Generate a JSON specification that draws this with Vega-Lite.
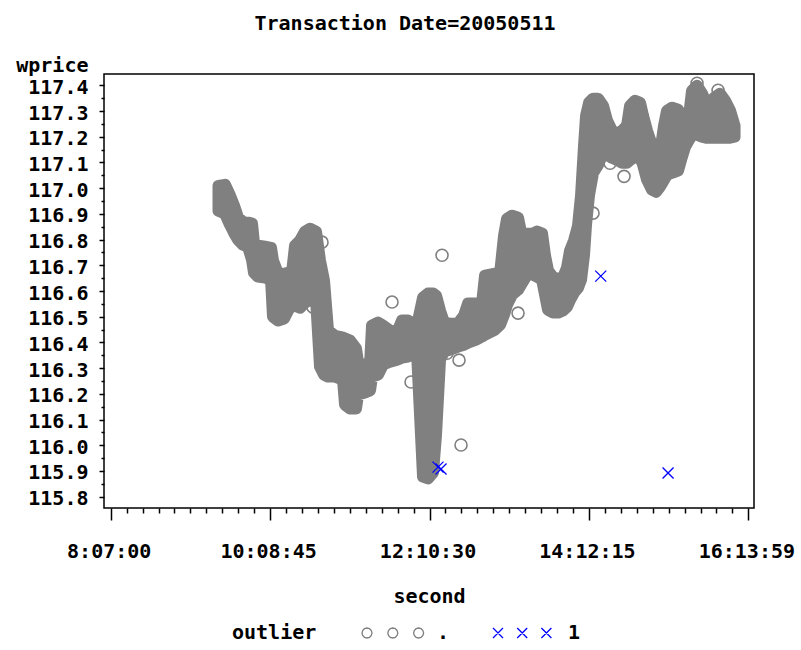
{
  "$schema": "https://vega.github.io/schema/vega-lite/v6.json",
  "width": 650,
  "height": 434,
  "autosize": {"type": "none"},
  "padding": {"left": 104, "top": 74, "right": 47, "bottom": 142},
  "background": "white",
  "title": {
    "text": "Transaction Date=20050511",
    "anchor": "middle",
    "frame": "group",
    "dx": -24,
    "offset": 5,
    "baseline": "alphabetic",
    "font": "DejaVu Sans Mono",
    "fontSize": 20,
    "fontWeight": "bold",
    "color": "black"
  },
  "config": {
    "view": {"stroke": "black", "strokeWidth": 1.5},
    "axis": {"domain": false, "grid": false}
  },
  "datasets": {
    "band": [
      {"second": 34160, "hi": 117.009, "lo": 116.912},
      {"second": 34458, "hi": 117.013, "lo": 116.901},
      {"second": 34688, "hi": 116.971, "lo": 116.858},
      {"second": 34871, "hi": 116.932, "lo": 116.827},
      {"second": 35054, "hi": 116.885, "lo": 116.800},
      {"second": 35283, "hi": 116.869, "lo": 116.780},
      {"second": 35513, "hi": 116.866, "lo": 116.772},
      {"second": 35696, "hi": 116.862, "lo": 116.722},
      {"second": 35788, "hi": 116.784, "lo": 116.671},
      {"second": 35971, "hi": 116.776, "lo": 116.656},
      {"second": 36292, "hi": 116.772, "lo": 116.652},
      {"second": 36567, "hi": 116.768, "lo": 116.644},
      {"second": 36658, "hi": 116.718, "lo": 116.500},
      {"second": 36887, "hi": 116.667, "lo": 116.485},
      {"second": 37162, "hi": 116.667, "lo": 116.493},
      {"second": 37346, "hi": 116.671, "lo": 116.524},
      {"second": 37529, "hi": 116.671, "lo": 116.547},
      {"second": 37667, "hi": 116.776, "lo": 116.543},
      {"second": 37896, "hi": 116.796, "lo": 116.535},
      {"second": 38125, "hi": 116.831, "lo": 116.555},
      {"second": 38354, "hi": 116.842, "lo": 116.566},
      {"second": 38629, "hi": 116.831, "lo": 116.570},
      {"second": 38812, "hi": 116.718, "lo": 116.306},
      {"second": 38996, "hi": 116.640, "lo": 116.275},
      {"second": 39179, "hi": 116.446, "lo": 116.267},
      {"second": 39500, "hi": 116.426, "lo": 116.267},
      {"second": 39866, "hi": 116.419, "lo": 116.255},
      {"second": 39958, "hi": 116.415, "lo": 116.158},
      {"second": 40187, "hi": 116.407, "lo": 116.143},
      {"second": 40462, "hi": 116.376, "lo": 116.143},
      {"second": 40554, "hi": 116.322, "lo": 116.197},
      {"second": 40875, "hi": 116.310, "lo": 116.205},
      {"second": 41104, "hi": 116.310, "lo": 116.213},
      {"second": 41195, "hi": 116.465, "lo": 116.267},
      {"second": 41470, "hi": 116.477, "lo": 116.275},
      {"second": 41700, "hi": 116.465, "lo": 116.314},
      {"second": 42020, "hi": 116.446, "lo": 116.325},
      {"second": 42341, "hi": 116.438, "lo": 116.333},
      {"second": 42570, "hi": 116.485, "lo": 116.341},
      {"second": 42845, "hi": 116.485, "lo": 116.345},
      {"second": 43074, "hi": 116.473, "lo": 116.353},
      {"second": 43258, "hi": 116.465, "lo": 116.360},
      {"second": 43533, "hi": 116.574, "lo": 115.878},
      {"second": 43762, "hi": 116.590, "lo": 115.871},
      {"second": 43991, "hi": 116.590, "lo": 115.894},
      {"second": 44129, "hi": 116.582, "lo": 116.042},
      {"second": 44312, "hi": 116.524, "lo": 116.333},
      {"second": 44495, "hi": 116.477, "lo": 116.364},
      {"second": 44770, "hi": 116.473, "lo": 116.372},
      {"second": 45137, "hi": 116.473, "lo": 116.384},
      {"second": 45412, "hi": 116.504, "lo": 116.391},
      {"second": 45595, "hi": 116.551, "lo": 116.399},
      {"second": 45962, "hi": 116.551, "lo": 116.411},
      {"second": 46237, "hi": 116.551, "lo": 116.423},
      {"second": 46374, "hi": 116.660, "lo": 116.430},
      {"second": 46833, "hi": 116.667, "lo": 116.450},
      {"second": 47062, "hi": 116.667, "lo": 116.469},
      {"second": 47245, "hi": 116.815, "lo": 116.508},
      {"second": 47383, "hi": 116.881, "lo": 116.547},
      {"second": 47612, "hi": 116.893, "lo": 116.586},
      {"second": 47887, "hi": 116.885, "lo": 116.605},
      {"second": 48024, "hi": 116.827, "lo": 116.625},
      {"second": 48299, "hi": 116.823, "lo": 116.664},
      {"second": 48574, "hi": 116.823, "lo": 116.664},
      {"second": 48757, "hi": 116.831, "lo": 116.656},
      {"second": 48987, "hi": 116.823, "lo": 116.644},
      {"second": 49124, "hi": 116.737, "lo": 116.586},
      {"second": 49262, "hi": 116.679, "lo": 116.527},
      {"second": 49491, "hi": 116.652, "lo": 116.516},
      {"second": 49720, "hi": 116.648, "lo": 116.516},
      {"second": 49949, "hi": 116.652, "lo": 116.524},
      {"second": 50132, "hi": 116.691, "lo": 116.539},
      {"second": 50270, "hi": 116.757, "lo": 116.566},
      {"second": 50453, "hi": 116.796, "lo": 116.594},
      {"second": 50636, "hi": 116.854, "lo": 116.613},
      {"second": 50774, "hi": 116.971, "lo": 116.644},
      {"second": 50911, "hi": 117.165, "lo": 116.741},
      {"second": 51003, "hi": 117.281, "lo": 116.858},
      {"second": 51141, "hi": 117.332, "lo": 116.974},
      {"second": 51324, "hi": 117.348, "lo": 117.060},
      {"second": 51553, "hi": 117.348, "lo": 117.091},
      {"second": 51782, "hi": 117.320, "lo": 117.138},
      {"second": 51966, "hi": 117.262, "lo": 117.130},
      {"second": 52195, "hi": 117.223, "lo": 117.118},
      {"second": 52424, "hi": 117.212, "lo": 117.110},
      {"second": 52653, "hi": 117.223, "lo": 117.099},
      {"second": 52882, "hi": 117.243, "lo": 117.099},
      {"second": 53020, "hi": 117.320, "lo": 117.110},
      {"second": 53249, "hi": 117.340, "lo": 117.122},
      {"second": 53478, "hi": 117.332, "lo": 117.122},
      {"second": 53615, "hi": 117.281, "lo": 117.091},
      {"second": 53799, "hi": 117.223, "lo": 117.033},
      {"second": 54028, "hi": 117.165, "lo": 116.994},
      {"second": 54211, "hi": 117.134, "lo": 116.986},
      {"second": 54395, "hi": 117.134, "lo": 117.006},
      {"second": 54578, "hi": 117.243, "lo": 117.033},
      {"second": 54715, "hi": 117.301, "lo": 117.052},
      {"second": 54944, "hi": 117.313, "lo": 117.060},
      {"second": 55219, "hi": 117.305, "lo": 117.068},
      {"second": 55357, "hi": 117.281, "lo": 117.110},
      {"second": 55540, "hi": 117.223, "lo": 117.161},
      {"second": 55724, "hi": 117.281, "lo": 117.188},
      {"second": 55861, "hi": 117.379, "lo": 117.208},
      {"second": 56090, "hi": 117.398, "lo": 117.208},
      {"second": 56319, "hi": 117.367, "lo": 117.200},
      {"second": 56503, "hi": 117.332, "lo": 117.196},
      {"second": 56686, "hi": 117.320, "lo": 117.196},
      {"second": 56869, "hi": 117.351, "lo": 117.196},
      {"second": 57144, "hi": 117.367, "lo": 117.196},
      {"second": 57373, "hi": 117.340, "lo": 117.196},
      {"second": 57603, "hi": 117.301, "lo": 117.196},
      {"second": 57809, "hi": 117.243, "lo": 117.200}
    ],
    "obs": [
      {"second": 38904, "wprice": 116.790, "outlier": "."},
      {"second": 38491, "wprice": 116.537, "outlier": "."},
      {"second": 42112, "wprice": 116.557, "outlier": "."},
      {"second": 42983, "wprice": 116.246, "outlier": "."},
      {"second": 44404, "wprice": 116.739, "outlier": "."},
      {"second": 44633, "wprice": 116.358, "outlier": "."},
      {"second": 45183, "wprice": 116.331, "outlier": "."},
      {"second": 45274, "wprice": 116.001, "outlier": "."},
      {"second": 47887, "wprice": 116.514, "outlier": "."},
      {"second": 51324, "wprice": 116.903, "outlier": "."},
      {"second": 52103, "wprice": 117.097, "outlier": "."},
      {"second": 52745, "wprice": 117.046, "outlier": "."},
      {"second": 56090, "wprice": 117.408, "outlier": "."},
      {"second": 57053, "wprice": 117.381, "outlier": "."},
      {"second": 44220, "wprice": 115.915, "outlier": "1"},
      {"second": 44358, "wprice": 115.908, "outlier": "1"},
      {"second": 51677, "wprice": 116.658, "outlier": "1"},
      {"second": 54761, "wprice": 115.892, "outlier": "1"}
    ]
  },
  "layer": [
    {
      "data": {"name": "band"},
      "mark": {
        "type": "area",
        "color": "#808080",
        "stroke": "#808080",
        "strokeWidth": 12,
        "strokeJoin": "round",
        "strokeCap": "round",
        "opacity": 1
      },
      "encoding": {
        "x": {
          "field": "second",
          "type": "quantitative",
          "scale": {"domain": [28913, 58700], "nice": false, "zero": false},
          "axis": {
            "title": "second",
            "titleX": 325,
            "titleY": 94,
            "titleAlign": "center",
            "titleBaseline": "alphabetic",
            "titleFont": "DejaVu Sans Mono",
            "titleFontSize": 20,
            "titleFontWeight": "bold",
            "titleColor": "black",
            "tickCount": 80,
            "values": [29220, 29950.5, 30681, 31411.5, 32142, 32872.5, 33603, 34333.5, 35064, 35794.5, 36525, 37255.5, 37986, 38716.5, 39447, 40177.5, 40908, 41638.5, 42369, 43099.5, 43830, 44560.5, 45291, 46021.5, 46752, 47482.5, 48213, 48943.5, 49674, 50404.5, 51135, 51865.5, 52596, 53326.5, 54057, 54787.5, 55518, 56248.5, 56979, 57709.5, 58440],
            "labelExpr": "datum.value % 7305 === 0 ? utcFormat((datum.value === 58440 ? 58439 : datum.value) * 1000, '%-H:%M:%S') : ''",
            "tickSize": {"condition": {"test": "datum.value % 7305 === 0", "value": 12}, "value": 5},
            "tickColor": "black",
            "tickWidth": 1.5,
            "labelPadding": 37,
            "labelOffset": -2,
            "labelBaseline": "alphabetic",
            "labelFont": "DejaVu Sans Mono",
            "labelFontSize": 20,
            "labelFontWeight": "bold",
            "labelColor": "black",
            "labelOverlap": false,
            "labelFlush": false,
            "labelBound": false
          }
        },
        "y": {
          "field": "hi",
          "type": "quantitative",
          "scale": {"domain": [115.756, 117.444], "nice": false, "zero": false},
          "axis": {
            "title": "wprice",
            "titleAngle": 0,
            "titleAlign": "right",
            "titleBaseline": "alphabetic",
            "titleX": -16,
            "titleY": -3,
            "titleFont": "DejaVu Sans Mono",
            "titleFontSize": 20,
            "titleFontWeight": "bold",
            "titleColor": "black",
            "tickCount": 80,
            "values": [115.8, 115.85, 115.9, 115.95, 116.0, 116.05, 116.1, 116.15, 116.2, 116.25, 116.3, 116.35, 116.4, 116.45, 116.5, 116.55, 116.6, 116.65, 116.7, 116.75, 116.8, 116.85, 116.9, 116.95, 117.0, 117.05, 117.1, 117.15, 117.2, 117.25, 117.3, 117.35, 117.4],
            "labelExpr": "abs(datum.value * 10 - round(datum.value * 10)) < 0.01 ? format(datum.value, '.1f') : ''",
            "tickSize": {"condition": {"test": "abs(datum.value * 10 - round(datum.value * 10)) < 0.01", "value": 5}, "value": 3},
            "tickColor": "black",
            "tickWidth": 1.5,
            "labelPadding": 11,
            "labelOffset": 2,
            "labelFont": "DejaVu Sans Mono",
            "labelFontSize": 20,
            "labelFontWeight": "bold",
            "labelColor": "black",
            "labelOverlap": false,
            "labelBound": false,
            "labelFlush": false
          }
        },
        "y2": {"field": "lo"}
      }
    },
    {
      "data": {"name": "obs"},
      "transform": [{"filter": "datum.outlier === '.'"}],
      "mark": {"type": "point", "shape": "circle", "filled": false, "color": "#808080", "strokeWidth": 1.6, "size": 144, "opacity": 1},
      "encoding": {
        "x": {"field": "second", "type": "quantitative", "title": "second"},
        "y": {"field": "wprice", "type": "quantitative", "title": "wprice"}
      }
    },
    {
      "data": {"name": "obs"},
      "transform": [{"filter": "datum.outlier === '1'"}],
      "mark": {"type": "point", "shape": "M-1,-1L1,1M-1,1L1,-1", "filled": false, "color": "#0000ff", "strokeWidth": 1.3, "size": 121, "opacity": 1},
      "encoding": {
        "x": {"field": "second", "type": "quantitative", "title": "second"},
        "y": {"field": "wprice", "type": "quantitative", "title": "wprice"}
      }
    },
    {
      "data": {"name": "obs"},
      "transform": [{"filter": "false"}],
      "mark": {"type": "point", "filled": false, "strokeWidth": 1.3, "size": 100, "opacity": 1},
      "encoding": {
        "x": {"field": "second", "type": "quantitative", "title": "second"},
        "y": {"field": "wprice", "type": "quantitative", "title": "wprice"},
        "color": {
          "field": "outlier",
          "type": "nominal",
          "scale": {"domain": [".", "1"], "range": ["#808080", "#0000ff"]},
          "legend": {
            "orient": "none",
            "legendX": 128,
            "legendY": 549,
            "direction": "horizontal",
            "title": "outlier",
            "titleOrient": "left",
            "titlePadding": 40,
            "titleBaseline": "middle",
            "titleFont": "DejaVu Sans Mono",
            "titleFontSize": 20,
            "titleFontWeight": "bold",
            "titleColor": "black",
            "labelFont": "DejaVu Sans Mono",
            "labelFontSize": 20,
            "labelFontWeight": "bold",
            "labelColor": "black",
            "labelBaseline": "middle",
            "labelOffset": 60,
            "columnPadding": 38,
            "padding": 0,
            "symbolSize": 100,
            "symbolStrokeWidth": 1.3,
            "symbolOpacity": 1
          }
        },
        "shape": {
          "field": "outlier",
          "type": "nominal",
          "scale": {
            "domain": [".", "1"],
            "range": [
              "M1,0L0.866,0.5L0.5,0.866L0,1L-0.5,0.866L-0.866,0.5L-1,0L-0.866,-0.5L-0.5,-0.866L0,-1L0.5,-0.866L0.866,-0.5ZM6.16,0L6.026,0.5L5.66,0.866L5.16,1L4.66,0.866L4.294,0.5L4.16,0L4.294,-0.5L4.66,-0.866L5.16,-1L5.66,-0.866L6.026,-0.5ZM11.32,0L11.186,0.5L10.82,0.866L10.32,1L9.82,0.866L9.454,0.5L9.32,0L9.454,-0.5L9.82,-0.866L10.32,-1L10.82,-0.866L11.186,-0.5Z",
              "M-1,-1L1,1M-1,1L1,-1M3.84,-1L5.84,1M3.84,1L5.84,-1M8.68,-1L10.68,1M8.68,1L10.68,-1"
            ]
          }
        }
      }
    }
  ]
}
